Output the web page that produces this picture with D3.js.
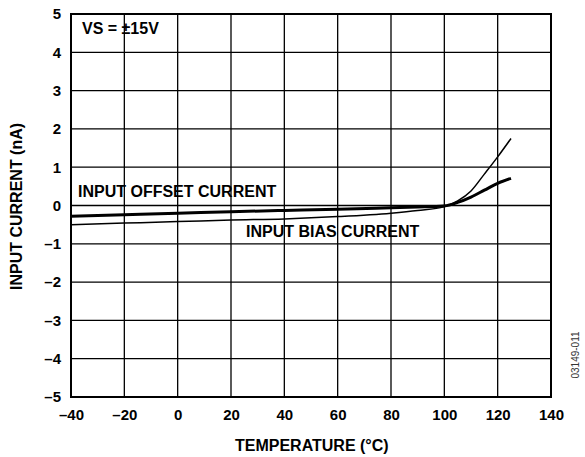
<!DOCTYPE html>
<html>
<head>
<meta charset="utf-8">
<script src="https://cdn.jsdelivr.net/npm/d3@7"></script>
<style>
  body { margin: 0; background: #fff; }
  text { font-family: Arial, "Liberation Sans", sans-serif; }
</style>
</head>
<body>
<div id="chart"></div>
<script>
// temperatures (°C) and currents (nA)
const temps = [-40, -20, 0, 20, 40, 60, 80, 90, 100, 105, 110, 115, 120, 125];
const offsetCurrent = [-0.28, -0.24, -0.2, -0.16, -0.13, -0.1, -0.06, -0.04, -0.01, 0.08, 0.22, 0.4, 0.58, 0.71];
const biasCurrent = [-0.5, -0.46, -0.42, -0.38, -0.35, -0.29, -0.2, -0.13, -0.03, 0.12, 0.38, 0.82, 1.27, 1.75];

const xTicks = d3.range(-40, 141, 20);
const yTicks = d3.range(-5, 6, 1);

const width = 585, height = 457;
const margin = {top: 14, right: 34, bottom: 60, left: 71};

const svg = d3.select('#chart').append('svg')
    .attr('width', width)
    .attr('height', height);

const x = d3.scaleLinear().domain([-40, 140]).range([margin.left, width - margin.right]);
const y = d3.scaleLinear().domain([-5, 5]).range([height - margin.bottom, margin.top]);

const fmt = d => String(d).replace('-', '\u2013');

// grid
svg.append('g')
    .selectAll('line')
    .data(xTicks)
    .join('line')
    .attr('x1', d => x(d)).attr('x2', d => x(d))
    .attr('y1', y(-5)).attr('y2', y(5))
    .attr('stroke', '#000').attr('stroke-width', 1.3);

svg.append('g')
    .selectAll('line')
    .data(yTicks)
    .join('line')
    .attr('x1', x(-40)).attr('x2', x(140))
    .attr('y1', d => y(d)).attr('y2', d => y(d))
    .attr('stroke', '#000').attr('stroke-width', 1.3);

// frame
svg.append('rect')
    .attr('x', x(-40)).attr('y', y(5))
    .attr('width', x(140) - x(-40)).attr('height', y(-5) - y(5))
    .attr('fill', 'none').attr('stroke', '#000').attr('stroke-width', 2);

// axes labels
const xAxis = d3.axisBottom(x).tickValues(xTicks).tickSize(0).tickPadding(12).tickFormat(fmt);
svg.append('g')
    .attr('transform', `translate(0,${y(-5)})`)
    .call(xAxis)
    .call(g => g.select('.domain').remove())
    .selectAll('text')
    .attr('font-size', 15).attr('font-weight', 'bold').attr('font-family', 'Arial, "Liberation Sans", sans-serif');

const yAxis = d3.axisLeft(y).tickValues(yTicks).tickSize(0).tickPadding(10).tickFormat(fmt);
svg.append('g')
    .attr('transform', `translate(${x(-40)},0)`)
    .call(yAxis)
    .call(g => g.select('.domain').remove())
    .selectAll('text')
    .attr('font-size', 15).attr('font-weight', 'bold').attr('font-family', 'Arial, "Liberation Sans", sans-serif');

// curves
const line = vals => d3.line()
    .x((d, i) => x(temps[i]))
    .y(d => y(d))
    .curve(d3.curveMonotoneX)(vals);

svg.append('path')
    .attr('d', line(biasCurrent))
    .attr('fill', 'none').attr('stroke', '#000').attr('stroke-width', 1.5);

svg.append('path')
    .attr('d', line(offsetCurrent))
    .attr('fill', 'none').attr('stroke', '#000').attr('stroke-width', 3);

// annotations
function label(px, py, str) {
    return svg.append('text')
        .attr('x', px).attr('y', py)
        .attr('font-size', 16).attr('font-weight', 'bold')
        .text(str);
}

label(82, 34, 'VS = \u00b115V');
label(78, 197, 'INPUT OFFSET CURRENT');
label(246, 237, 'INPUT BIAS CURRENT');
label(235, 451, 'TEMPERATURE (\u00b0C)');

label(0, 0, 'INPUT CURRENT (nA)')
    .attr('transform', `translate(22,290) rotate(-90)`);

svg.append('text')
    .attr('transform', `translate(579,355) rotate(-90)`)
    .attr('text-anchor', 'middle')
    .attr('font-size', 10)
    .attr('fill', '#333')
    .text('03149-011');
</script>
</body>
</html>
